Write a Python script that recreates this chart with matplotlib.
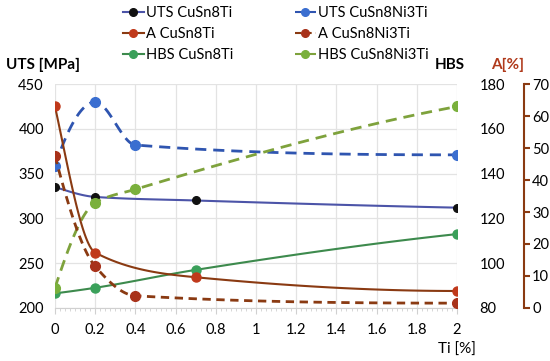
import numpy as np
import matplotlib.pyplot as plt
from matplotlib.ticker import MultipleLocator, FuncFormatter

plt.rcParams['font.family'] = ['Lato', 'DejaVu Sans']
plt.rcParams['font.size'] = 10.5

# values
ti_8 = [0, 0.2, 0.7, 2]
ti_ni = [0, 0.2, 0.4, 2]
uts_8 = [335, 324, 320, 312]
uts_ni = [359, 430, 382, 371]
a_8 = [63, 17.3, 9.6, 5.3]
a_ni = [47.5, 13, 3.8, 1.5]
hbs_8 = [86.5, 89, 97, 113]
hbs_ni = [89, 127, 133, 170]


def end_slope(h0, h1, d0, d1):
    m = ((2 * h0 + h1) * d0 - h0 * d1) / (h0 + h1)
    if np.sign(m) != np.sign(d0):
        return 0.0
    if np.sign(d0) != np.sign(d1) and abs(m) > 3 * abs(d0):
        return 3 * d0
    return m


def smooth(x, y, n=40):
    # smoothed line through the points (monotone cubic, no overshoot)
    x = np.asarray(x, float)
    y = np.asarray(y, float)
    h = np.diff(x)
    d = np.diff(y) / h
    m = np.zeros_like(y)
    for k in range(1, len(x) - 1):
        if d[k - 1] * d[k] > 0:
            w1 = 2 * h[k] + h[k - 1]
            w2 = h[k] + 2 * h[k - 1]
            m[k] = (w1 + w2) / (w1 / d[k - 1] + w2 / d[k])
    m[0] = end_slope(h[0], h[1], d[0], d[1])
    m[-1] = end_slope(h[-1], h[-2], d[-1], d[-2])
    xs, ys = [], []
    t = np.linspace(0, 1, n)
    h00 = 2 * t**3 - 3 * t**2 + 1
    h10 = t**3 - 2 * t**2 + t
    h01 = -2 * t**3 + 3 * t**2
    h11 = t**3 - t**2
    for i in range(len(x) - 1):
        xs.append(x[i] + t * h[i])
        ys.append(h00 * y[i] + h10 * h[i] * m[i] + h01 * y[i + 1] + h11 * h[i] * m[i + 1])
    return np.concatenate(xs), np.concatenate(ys)


fig = plt.figure(figsize=(5.5, 3.61), dpi=100)
ax = fig.add_axes([0.1, 0.147, 0.731, 0.62])
ax2 = ax.twinx()
ax3 = ax.twinx()

brown = '#8a3a12'


def series(axis, x, y, lc, mc, ls, label, ms=6.5):
    sx, sy = smooth(x, y)
    axis.plot(sx, sy, color=lc, ls=ls, lw=1.5 if ls == '-' else 2, zorder=3)
    axis.plot(x, y, ls='none', marker='o', ms=ms, color=mc, zorder=4)
    return plt.Line2D([], [], color=lc, ls=ls, lw=1.5, marker='o', ms=5.5,
                      markerfacecolor=mc, markeredgecolor=mc, label=label)


h = []
h.append(series(ax, ti_8, uts_8, '#4c54a8', '#111111', '-', 'UTS CuSn8Ti', ms=5.5))
h.append(series(ax3, ti_8, a_8, brown, '#c0391b', '-', 'A CuSn8Ti'))
h.append(series(ax2, ti_8, hbs_8, '#3d8a4d', '#3aa05a', '-', 'HBS CuSn8Ti'))
h.append(series(ax, ti_ni, uts_ni, '#2f55b0', '#3a6ed0', (0, (4, 2.5)), 'UTS CuSn8Ni3Ti', ms=7))
h.append(series(ax3, ti_ni, a_ni, brown, '#a8321a', (0, (3, 2)), 'A CuSn8Ni3Ti', ms=7))
h.append(series(ax2, ti_ni, hbs_ni, '#7ea23c', '#7ab03c', (0, (4, 2.5)), 'HBS CuSn8Ni3Ti', ms=7))

ax.set_xlim(0, 2)
ax.set_ylim(200, 450)
ax2.set_ylim(80, 180)
ax3.set_ylim(0, 70)

ax.xaxis.set_major_locator(MultipleLocator(0.2))
ax.xaxis.set_minor_locator(MultipleLocator(0.025))
ax.xaxis.set_major_formatter(FuncFormatter(lambda v, p: f"{v:g}"))
ax.yaxis.set_major_locator(MultipleLocator(50))
ax2.yaxis.set_major_locator(MultipleLocator(20))
ax3.yaxis.set_major_locator(MultipleLocator(10))

ax.grid(True, color='#e3e3e3', lw=0.9)
ax.set_axisbelow(True)
for a in (ax, ax2, ax3):
    for s in ('top', 'left', 'right', 'bottom'):
        a.spines[s].set_visible(False)
ax.spines['bottom'].set_visible(True)
ax.spines['bottom'].set_color('#d0d0d0')
ax.tick_params(axis='y', length=0, pad=8)
ax.tick_params(axis='x', which='major', length=4, color='#d0d0d0', pad=7)
ax.tick_params(axis='x', which='minor', length=2.5, color='#d0d0d0')
ax2.tick_params(axis='y', length=0, pad=16)

ax3.spines['right'].set_visible(True)
ax3.spines['right'].set_position(('outward', 48))
ax3.spines['right'].set_color(brown)
ax3.spines['right'].set_linewidth(1.5)
ax3.tick_params(axis='y', color=brown, width=1.5, length=4, pad=2)

fig.text(0.01, 0.8, 'UTS [MPa]', fontweight='bold', fontsize=11, va='bottom')
fig.text(0.79, 0.8, 'HBS', fontweight='bold', fontsize=11, va='bottom')
fig.text(0.893, 0.8, 'A[%]', fontweight='bold', fontsize=11, va='bottom', color='#b03a1c')
fig.text(0.83, 0.02, 'Ti [%]', fontsize=11, ha='center')

fig.legend(handles=h, ncol=2, loc='upper left', bbox_to_anchor=(0.2, 1.02),
           frameon=False, columnspacing=4.2, handlelength=1.4, handletextpad=0.2,
           labelspacing=0.5, fontsize=10.5)

fig.savefig('out.png', dpi=100)
